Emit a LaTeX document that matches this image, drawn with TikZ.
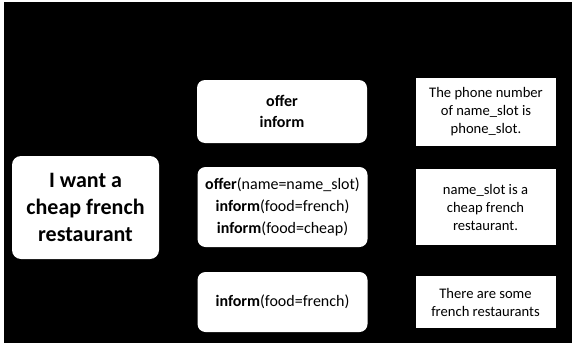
\documentclass[tikz,border=0pt]{standalone}
\usepackage{fontspec}
\setmainfont{Carlito}
\tikzset{
  box/.style={fill=white,inner sep=0,align=center,text=black},
  user box/.style={box,rounded corners=9pt,minimum width=147pt,minimum height=103pt,
    font=\fontsize{22}{26.7}\selectfont\bfseries},
  act box/.style={box,rounded corners=8pt,minimum width=170pt,
    font=\fontsize{16}{21.6}\selectfont},
  sent box/.style={box,minimum width=140pt,font=\fontsize{14.6}{18}\selectfont},
  every picture/.style={x=1pt,y=-1pt},
}
\newcommand{\act}[2]{\textbf{#1}(#2)}

\begin{document}
\begin{tikzpicture}
  % page and black field
  \fill[white] (0,0) rectangle (572,345);
  \fill[black] (4,2) rectangle (572,343);
  % user utterance
  \node[user box] (user) at (85.5,207.5) {I want a\\cheap french\\restaurant};
  % dialogue acts
  \node[act box,minimum height=63pt] (act1) at (282,111.5) {\textbf{offer}\\\textbf{inform}};
  \node[act box,minimum height=80pt] (act2) at (282.5,207)
    {\act{offer}{name=name\_slot}\\\act{inform}{food=french}\\\act{inform}{food=cheap}};
  \node[act box,minimum height=60pt] (act3) at (282.5,302) {\act{inform}{food=french}};
  % generated sentences
  \node[sent box,minimum height=68pt] (sent1) at (486,112) {The phone number\\of name\_slot is\\phone\_slot.};
  \node[sent box,minimum height=76pt] (sent2) at (485.5,207) {name\_slot is a\\cheap french\\restaurant.};
  \node[sent box,minimum height=52pt] (sent3) at (485.5,302) {There are some\\french restaurants};
\end{tikzpicture}
\end{document}
